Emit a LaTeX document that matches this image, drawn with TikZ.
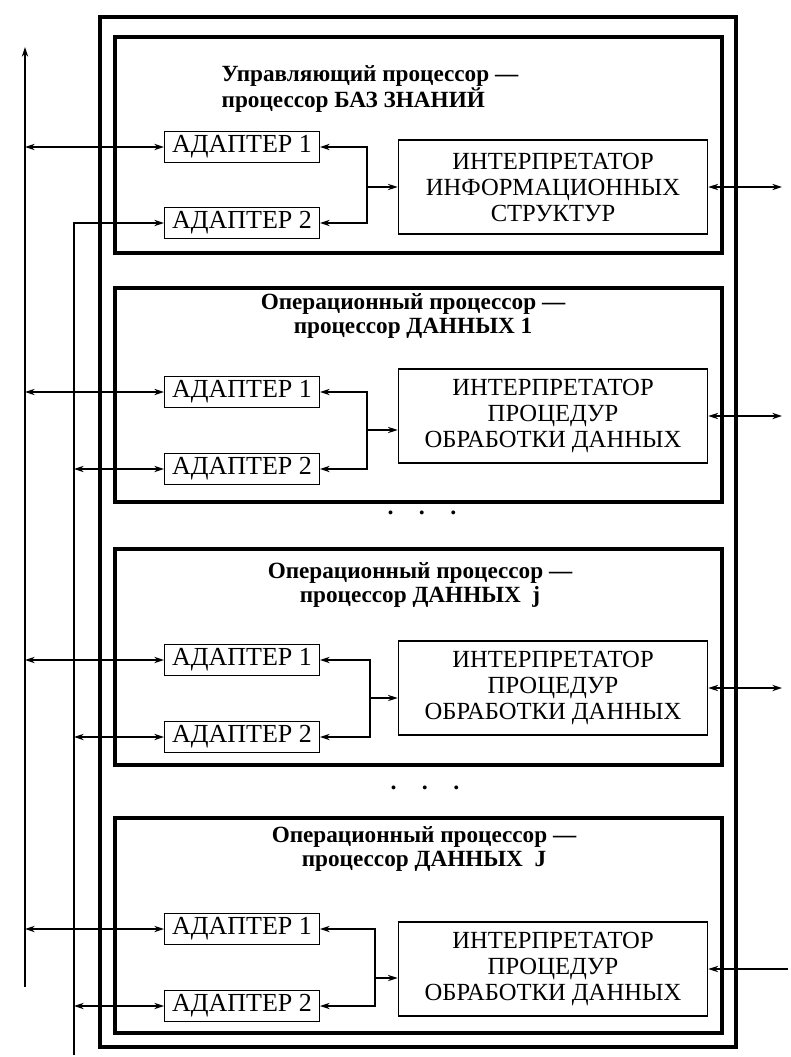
\documentclass[tikz,border=0pt]{standalone}
\usepackage{fontspec}
\setmainfont{Liberation Serif}
\usetikzlibrary{arrows.meta}

\begin{document}
\begin{tikzpicture}[x=0.025cm, y=-0.025cm,
    >={Stealth[length=7pt,width=4.5pt]},
    link/.style={line width=0.8pt},
    outerbox/.style={line width=2.6pt},
    procbox/.style={line width=2.3pt},
    adapter/.style={draw, line width=0.9pt, minimum width=110pt, minimum height=22pt,
        inner sep=0pt, font=\fontsize{18.5}{19}\selectfont},
    interp/.style={draw, line width=0.9pt, minimum width=220pt, minimum height=67pt,
        inner sep=0pt, align=center, font=\fontsize{17.5}{18.5}\selectfont},
    title/.style={align=center, font=\bfseries\fontsize{16.5}{17.5}\selectfont},
    dotrow/.style={font=\bfseries\fontsize{17}{17}\selectfont}]
    \useasboundingbox (0, 0) rectangle (790, 1057);

    % outer frame and processor frames
    \draw [outerbox] (100, 17) rectangle (736, 1047);
    \draw [procbox] (115, 37) rectangle (722, 253);
    \draw [procbox] (115, 288) rectangle (722, 502);
    \draw [procbox] (115, 549) rectangle (722, 765);
    \draw [procbox] (115, 818) rectangle (722, 1033);

    % buses
    \coordinate (bustop) at (25, 47);
    \coordinate (busbot) at (25, 987);
    \coordinate (bus2bot) at (74, 1055);
    \draw [link, ->] (busbot) -- (bustop);

    % control processor
    \node [title, align=left] (kbtitle) at (370, 89) {Управляющий процессор —\\процессор БАЗ ЗНАНИЙ};
    \node [adapter] (kba1) at (242, 147) {АДАПТЕР 1};
    \node [adapter] (kba2) at (242, 223) {АДАПТЕР 2};
    \node [interp] (kbint) at (553, 187) {ИНТЕРПРЕТАТОР\\ИНФОРМАЦИОННЫХ\\СТРУКТУР};
    \coordinate (kbj) at (367, 187);
    \coordinate (kbout) at (782, 187);
    \draw [link, <->] (bustop |- kba1.west) -- (kba1.west);
    \draw [link, ->] (bus2bot) |- (kba2.west);
    \draw [link, ->] (kbj) |- (kba1.east);
    \draw [link, ->] (kbj) |- (kba2.east);
    \draw [link, ->] (kbj) -- (kbint.west);
    \draw [link, <->] (kbint.east) -- (kbout);

    % data processor 1
    \node [title] (d1title) at (413, 316) {Операционный процессор —\\процессор ДАННЫХ 1};
    \node [adapter] (d1a1) at (242, 392) {АДАПТЕР 1};
    \node [adapter] (d1a2) at (242, 469) {АДАПТЕР 2};
    \node [interp] (d1int) at (553, 416) {ИНТЕРПРЕТАТОР\\ПРОЦЕДУР\\ОБРАБОТКИ ДАННЫХ};
    \coordinate (d1j) at (367, 430);
    \coordinate (d1out) at (782, 416);
    \draw [link, <->] (bustop |- d1a1.west) -- (d1a1.west);
    \draw [link, <->] (bus2bot |- d1a2.west) -- (d1a2.west);
    \draw [link, ->] (d1j) |- (d1a1.east);
    \draw [link, ->] (d1j) |- (d1a2.east);
    \draw [link, ->] (d1j) -- (d1j -| d1int.west);
    \draw [link, <->] (d1int.east) -- (d1out);

    \node [dotrow] (dots1) at (422, 513) {.\hspace{18pt}.\hspace{18pt}.};

    % data processor j
    \node [title] (djtitle) at (420, 585) {Операционный процессор —\\процессор ДАННЫХ\ \ j};
    \node [adapter] (dja1) at (242, 660) {АДАПТЕР 1};
    \node [adapter] (dja2) at (242, 737) {АДАПТЕР 2};
    \node [interp] (djint) at (553, 688) {ИНТЕРПРЕТАТОР\\ПРОЦЕДУР\\ОБРАБОТКИ ДАННЫХ};
    \coordinate (djj) at (370, 698);
    \coordinate (djout) at (782, 688);
    \draw [link, <->] (bustop |- dja1.west) -- (dja1.west);
    \draw [link, <->] (bus2bot |- dja2.west) -- (dja2.west);
    \draw [link, ->] (djj) |- (dja1.east);
    \draw [link, ->] (djj) |- (dja2.east);
    \draw [link, ->] (djj) -- (djj -| djint.west);
    \draw [link, <->] (djint.east) -- (djout);

    \node [dotrow] (dots2) at (425, 788) {.\hspace{18pt}.\hspace{18pt}.};

    % data processor J
    \node [title] (dJtitle) at (424, 849) {Операционный процессор —\\процессор ДАННЫХ\ \ J};
    \node [adapter] (dJa1) at (242, 929) {АДАПТЕР 1};
    \node [adapter] (dJa2) at (242, 1006) {АДАПТЕР 2};
    \node [interp] (dJint) at (553, 969) {ИНТЕРПРЕТАТОР\\ПРОЦЕДУР\\ОБРАБОТКИ ДАННЫХ};
    \coordinate (dJj) at (375, 978);
    \coordinate (dJout) at (788, 969);
    \draw [link, <->] (bustop |- dJa1.west) -- (dJa1.west);
    \draw [link, <->] (bus2bot |- dJa2.west) -- (dJa2.west);
    \draw [link, ->] (dJj) |- (dJa1.east);
    \draw [link, ->] (dJj) |- (dJa2.east);
    \draw [link, ->] (dJj) -- (dJj -| dJint.west);
    \draw [link, <-] (dJint.east) -- (dJout);
\end{tikzpicture}
\end{document}
